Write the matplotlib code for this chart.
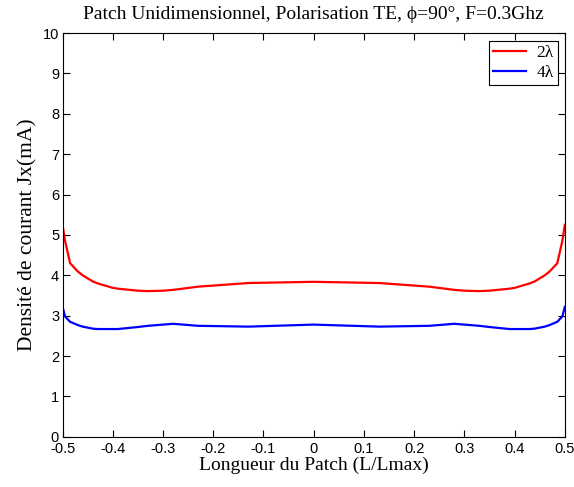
import matplotlib
matplotlib.use('Agg')
import matplotlib.pyplot as plt

# Data
x_vals = [-0.5, -0.495, -0.485, -0.47, -0.46, -0.44, -0.43, -0.40, -0.39, -0.35,
          -0.33, -0.30, -0.28, -0.23, -0.13, 0.0,
          0.13, 0.23, 0.28, 0.30, 0.33, 0.35, 0.39, 0.40, 0.43, 0.44,
          0.46, 0.47, 0.485, 0.495, 0.5]
red_2lambda = [5.25, 4.85, 4.3, 4.1, 4.0, 3.85, 3.8, 3.69, 3.67, 3.62,
               3.61, 3.62, 3.64, 3.72, 3.81, 3.84,
               3.81, 3.72, 3.64, 3.62, 3.61, 3.62, 3.67, 3.69, 3.8, 3.85,
               4.0, 4.1, 4.3, 4.85, 5.25]
blue_4lambda = [3.22, 2.98, 2.85, 2.77, 2.73, 2.68, 2.67, 2.67, 2.67, 2.72,
                2.75, 2.78, 2.8, 2.75, 2.73, 2.78,
                2.73, 2.75, 2.8, 2.78, 2.75, 2.72, 2.67, 2.67, 2.67, 2.68,
                2.73, 2.77, 2.85, 2.98, 3.22]
x_ticks = [-0.5, -0.4, -0.3, -0.2, -0.1, 0, 0.1, 0.2, 0.3, 0.4, 0.5]
x_tick_labels = ['-0.5', '-0.4', '-0.3', '-0.2', '-0.1', '0', '0.1', '0.2', '0.3', '0.4', '0.5']
y_ticks = list(range(0, 11))

fig = plt.figure(figsize=(5.74, 4.87), dpi=100)
ax = fig.add_axes([0.109, 0.103, 0.875, 0.829])

ax.plot(x_vals, red_2lambda, color='#ff0000', lw=1.6, label='2\u03bb')
ax.plot(x_vals, blue_4lambda, color='#0000ff', lw=1.6, label='4\u03bb')

ax.set_xlim(-0.5, 0.5)
ax.set_ylim(0, 10)
ax.set_xticks(x_ticks)
ax.set_xticklabels(x_tick_labels)
ax.set_yticks(y_ticks)
ax.tick_params(direction='in', length=5, top=True, right=True,
               labelsize=10.5, pad=2.5)
ax.tick_params(axis='x', pad=3.5)
for lab in ax.get_xticklabels() + ax.get_yticklabels():
    lab.set_family('Liberation Sans')
for s in ax.spines.values():
    s.set_linewidth(0.8)

serif = 'Liberation Serif'
ax.set_title('Patch Unidimensionnel, Polarisation TE, \u03d5=90\u00b0, F=0.3Ghz',
             family=serif, fontsize=14, pad=10)
ax.set_xlabel('Longueur du Patch (L/Lmax)', family=serif, fontsize=14, labelpad=1)
ax.set_ylabel('Densit\u00e9 de courant Jx(mA)', family=serif, fontsize=15.5, labelpad=4)

leg = ax.legend(loc='upper right', bbox_to_anchor=(0.986, 0.980),
                prop={'family': serif, 'size': 12.5},
                fancybox=False, edgecolor='black', framealpha=1,
                handlelength=1.9, labelspacing=0.2, borderaxespad=0,
                borderpad=0.22, handletextpad=0.6)
leg.get_frame().set_linewidth(0.8)

fig.savefig('out.png', dpi=100, facecolor='white')
